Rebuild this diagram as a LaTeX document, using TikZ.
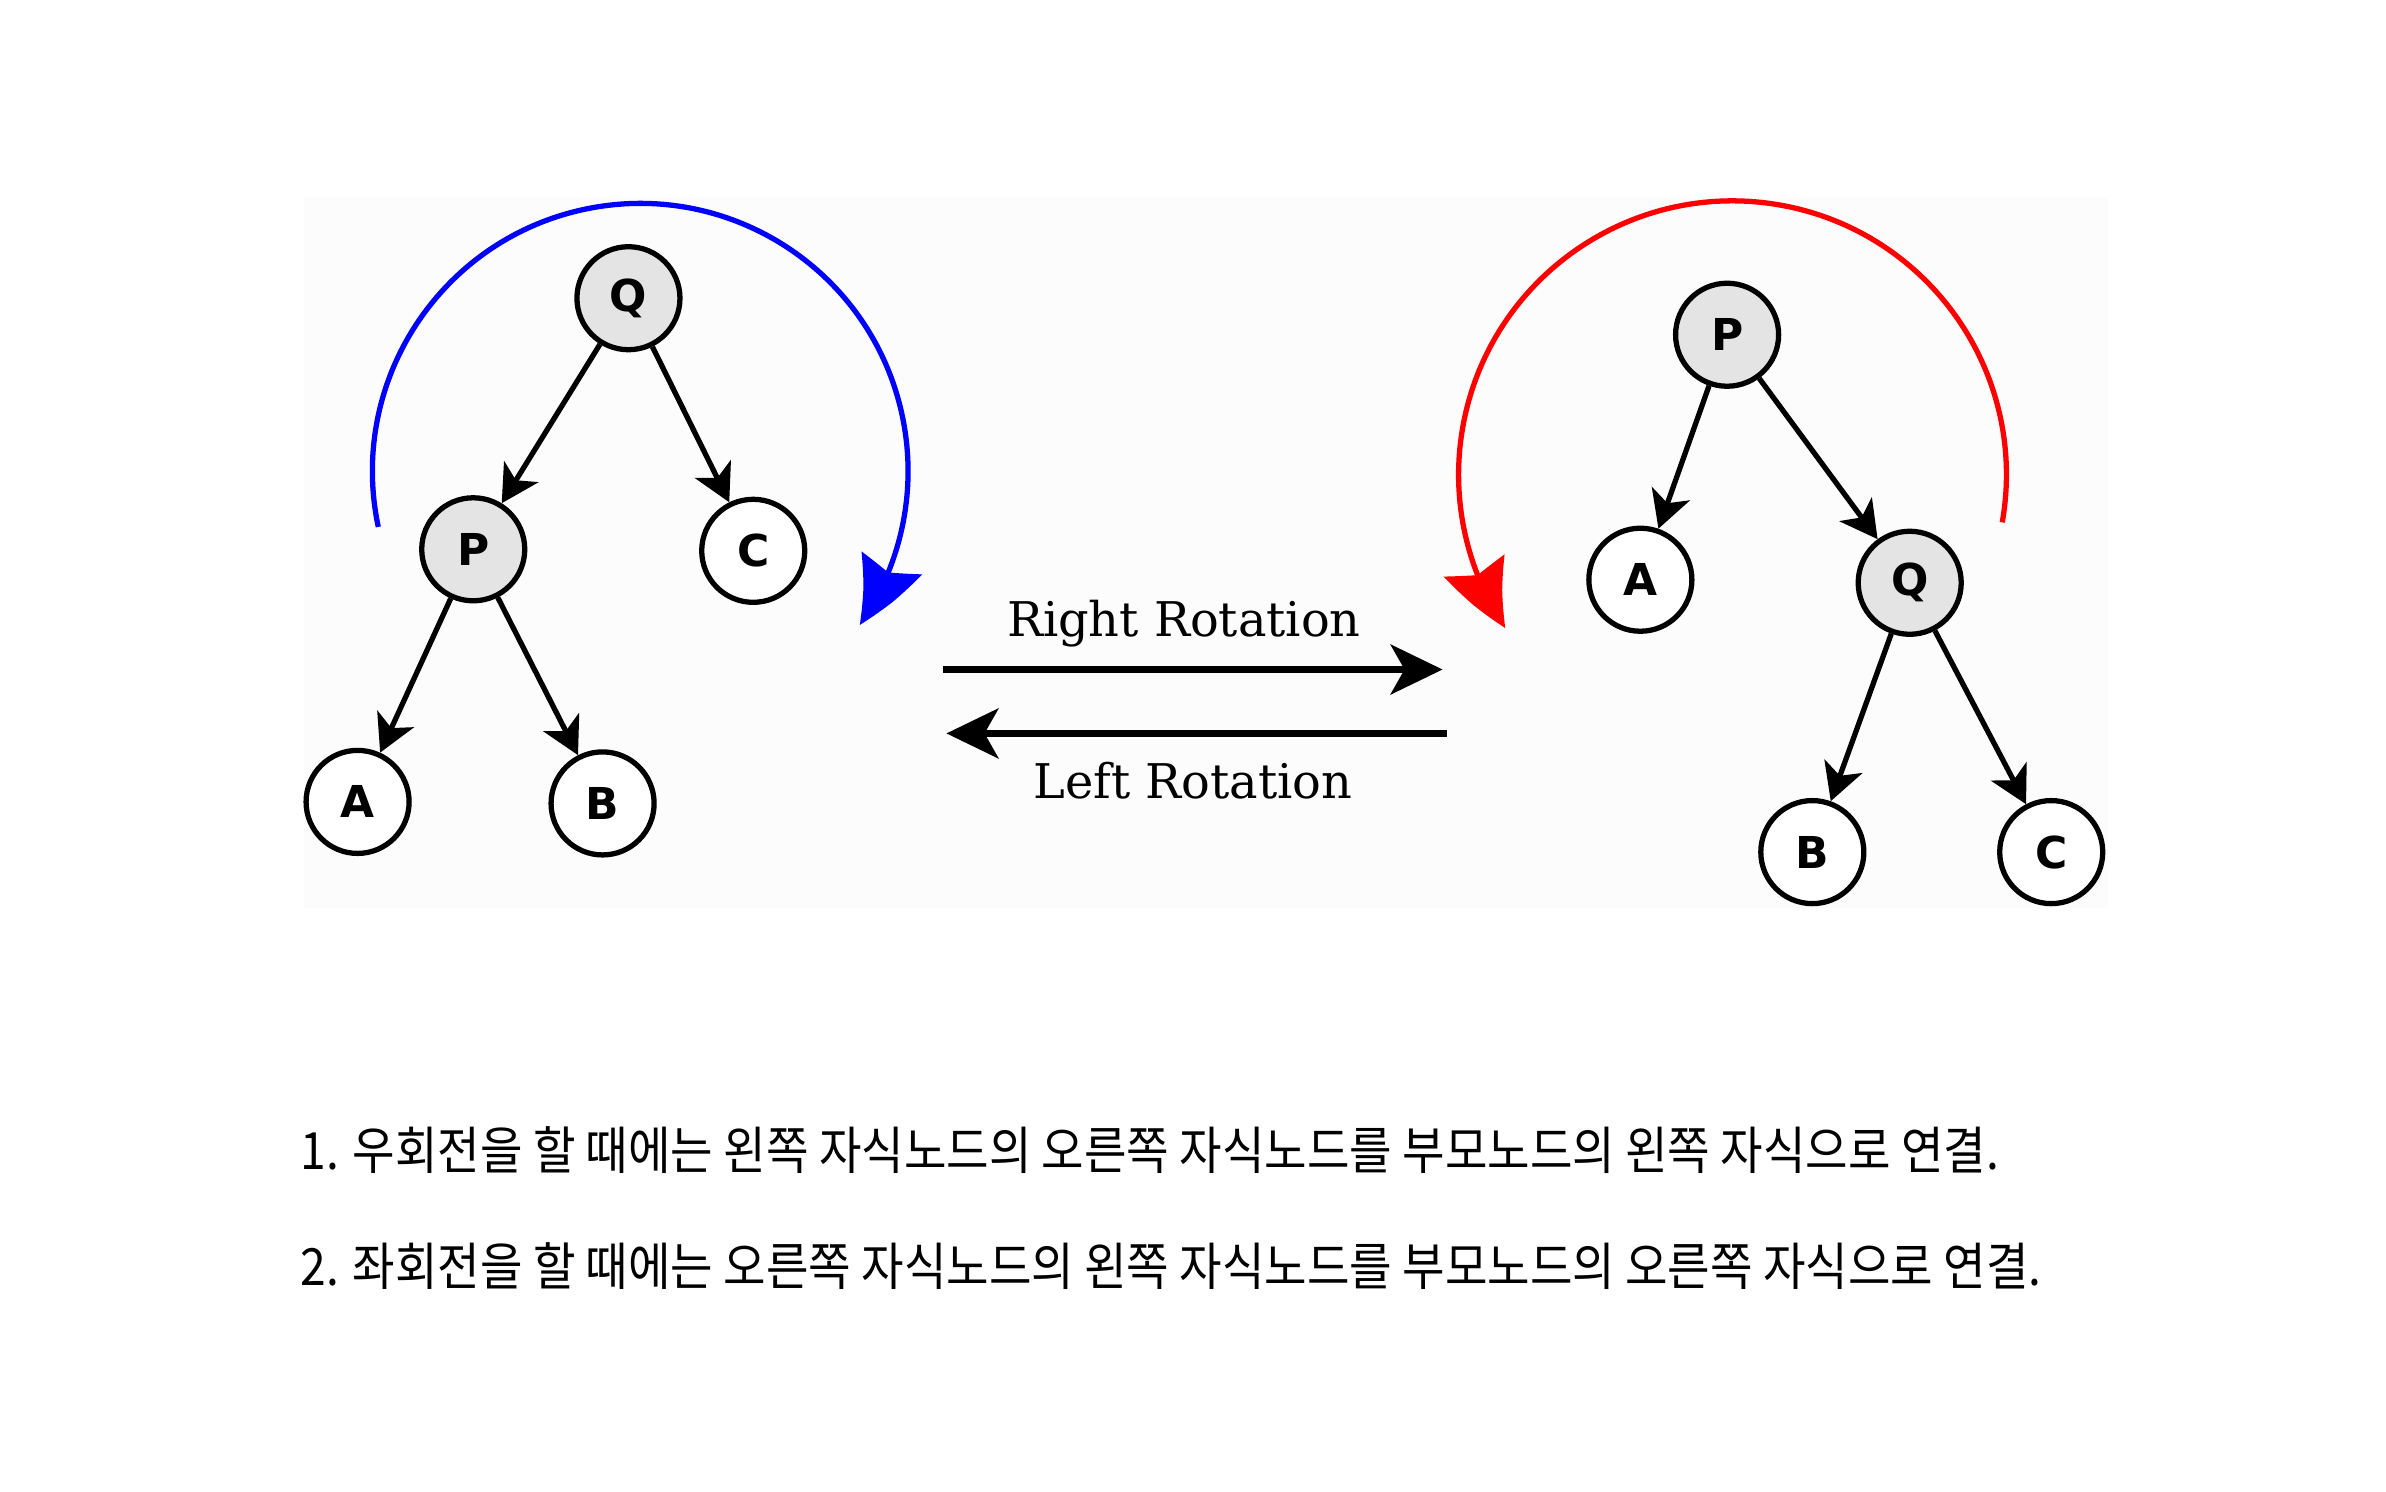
\documentclass[tikz,border=0pt]{standalone}
\usepackage{fontspec}
\usepackage{xcolor}
\definecolor{rotblue}{HTML}{0000FF}
\definecolor{rotred}{HTML}{FF0000}
\definecolor{keygray}{HTML}{E4E4E4}
\definecolor{panelbg}{HTML}{FCFCFC}
\newfontfamily\keyfont{DejaVu Sans}
\newfontfamily\rotfont{DejaVu Serif}
\newfontfamily\kofont[FakeStretch=0.9]{Noto Sans CJK KR}
\usetikzlibrary{arrows.meta, bending, positioning}

\begin{document}
\begin{tikzpicture}[
  x=0.0152174cm, y=0.0152174cm,
  key/.style={circle, draw=black, fill=white, line width=1.5pt, minimum size=1.03cm,
    inner sep=0pt, font=\keyfont\bfseries\fontsize{12.5}{13}\selectfont},
  pivot/.style={key, fill=keygray},
  link/.style={-{Stealth[length=0.37cm, width=0.4cm, inset=0.1cm]}, line width=1.5pt},
  rotarrow/.style={-{Stealth[length=0.52cm, width=0.5cm, inset=0.14cm]}, line width=1.8pt},
  swing/.style={-{Stealth[length=0.7cm, width=0.64cm, inset=0.1cm, bend]}, line width=1.5pt},
  rotlabel/.style={font=\rotfont\fontsize{13.6}{14}\selectfont},
  note/.style={anchor=west, inner sep=0pt, font=\kofont\fontsize{14.6}{17}\selectfont}
]
\useasboundingbox (0,0) rectangle (1568,980);
\fill[panelbg] (200,383) rectangle (1385,850);

% before: Q on top
\node[pivot] (lq) at (413,784) {Q};
\node[pivot] (lp) at (311,619) {P};
\node[key] (lc) at (495,618) {C};
\node[key] (la) at (235,453) {A};
\node[key] (lb) at (396,452) {B};
\draw[link] (lq) -- (lp); \draw[link] (lq) -- (lc);
\draw[link] (lp) -- (la); \draw[link] (lp) -- (lb);

% after: P on top
\node[pivot] (rp) at (1135,760) {P};
\node[key] (ra) at (1078,599) {A};
\node[pivot] (rq) at (1255,597) {Q};
\node[key] (rb) at (1191,420) {B};
\node[key] (rc) at (1348,420) {C};
\draw[link] (rp) -- (ra); \draw[link] (rp) -- (rq);
\draw[link] (rq) -- (rb); \draw[link] (rq) -- (rc);

% rotation arcs
\coordinate (bluestart) at (248.6,633.7);
\draw[swing, rotblue] (bluestart) arc[start angle=192, end angle=-35, radius=176];
\coordinate (redstart) at (1315.8,636.7);
\draw[swing, rotred] (redstart) arc[start angle=-10, end angle=214, radius=180];

% middle arrows
\coordinate (rrfrom) at (620,540); \coordinate (rrto) at (948,540);
\coordinate (lrfrom) at (951,498); \coordinate (lrto) at (622,498);
\draw[rotarrow] (rrfrom) -- (rrto);
\draw[rotarrow] (lrfrom) -- (lrto);
\node[rotlabel] (rrtext) at (778,570) {Right Rotation};
\node[rotlabel] (lrtext) at (784,467) {Left Rotation};

\node[note] (rule1) at (197,224) {1. 우회전을 할 때에는 왼쪽 자식노드의 오른쪽 자식노드를 부모노드의 왼쪽 자식으로 연결.};
\node[note] (rule2) at (197,148) {2. 좌회전을 할 때에는 오른쪽 자식노드의 왼쪽 자식노드를 부모노드의 오른쪽 자식으로 연결.};
\end{tikzpicture}
\end{document}
